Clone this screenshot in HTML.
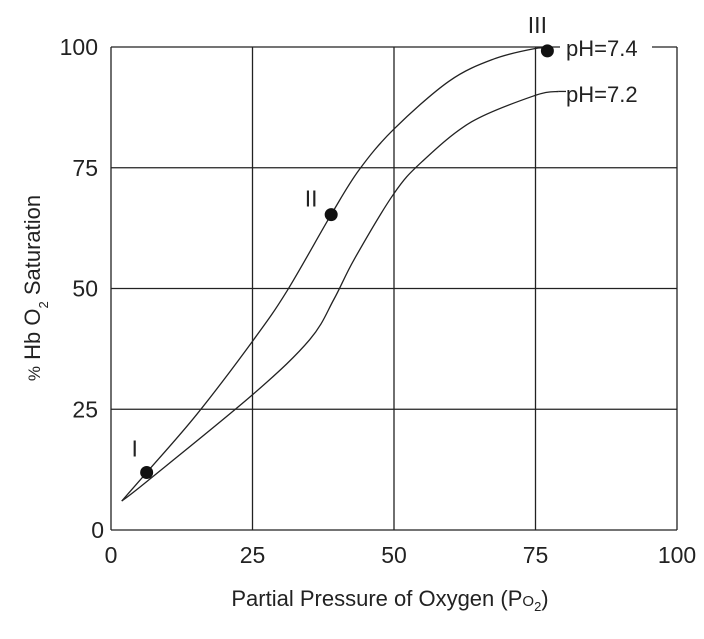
<!DOCTYPE html>
<html><head><meta charset="utf-8"><style>
body{margin:0;background:#fff;}
svg text{font-family:"Liberation Sans",sans-serif;fill:#222;}
</style></head><body>
<svg id="c" width="704" height="634"></svg>
<script>
const xTicks=[0,25,50,75,100];
const yTicks=[0,25,50,75,100];
const po2_74=[1.9,6.3,15.2,25.2,31.1,38.9,43.8,49.9,59.7,67.6,75,77.1];
const sat_74=[6,11.9,24,39.4,49.5,65.3,74.5,82.9,92.9,97.5,99.7,99.6];
const po2_72=[1.9,6.5,25.2,35.1,39.4,43,49.9,54.9,63.7,75,79.1];
const sat_72=[6,10.2,28.2,39.4,47.8,56.1,69.5,76.2,84.5,90,90.8];
const pointLabels=["I","II","III"];
const pointX=[6.3,38.9,77.1];
const pointY=[11.9,65.3,99.2];
const X0=111,X1=677,Y0=530,Y1=47;
const sx=v=>X0+(v/100)*(X1-X0), sy=v=>Y0-(v/100)*(Y0-Y1);
const svg=document.getElementById('c');const NS='http://www.w3.org/2000/svg';
function mk(t,a,p){const e=document.createElementNS(NS,t);for(const k in a)e.setAttribute(k,a[k]);(p||svg).appendChild(e);return e;}
xTicks.forEach(v=>{const l=mk('line',{x1:sx(v),x2:sx(v),y1:Y1,y2:Y0,stroke:'#222','stroke-width':1.3});

const t=mk('text',{x:sx(v),y:563,'text-anchor':'middle','font-size':23});t.textContent=v;
});
yTicks.forEach(v=>{const l=mk('line',{x1:X0,x2:X1,y1:sy(v),y2:sy(v),stroke:'#222','stroke-width':1.3});

const t=mk('text',{x:v==0?104:98,y:sy(v)+8,'text-anchor':'end','font-size':23});t.textContent=v;
});
function path(xs,ys){const p=xs.map((x,i)=>[sx(x),sy(ys[i])]);let d='M'+p[0][0]+','+p[0][1];
for(let i=0;i<p.length-1;i++){const a=p[i-1]||p[i],b=p[i],c=p[i+1],e=p[i+2]||c;
d+=' C'+(b[0]+(c[0]-a[0])/6)+','+(b[1]+(c[1]-a[1])/6)+' '+(c[0]-(e[0]-b[0])/6)+','+(c[1]-(e[1]-b[1])/6)+' '+c[0]+','+c[1];}return d;}
const c1=mk('path',{d:path(po2_74,sat_74),fill:'none',stroke:'#222','stroke-width':1.3});

const c2=mk('path',{d:path(po2_72,sat_72),fill:'none',stroke:'#222','stroke-width':1.3});

const lead=mk('line',{x1:sx(79.1),x2:566,y1:sy(90.8),y2:sy(90.8),stroke:'#222','stroke-width':1.3});

const lo=[[-12,-16],[-20,-8],[-10,-18]];
pointX.forEach((x,i)=>{const d=mk('circle',{cx:sx(x),cy:sy(pointY[i]),r:6.5,fill:'#111'});

const t=mk('text',{x:sx(x)+lo[i][0],y:sy(pointY[i])+lo[i][1],'text-anchor':'middle','font-size':23});t.textContent=pointLabels[i];
});
let w=mk('rect',{x:560,y:36,width:92,height:24,fill:'#fff'});

let t=mk('text',{x:566,y:56,'font-size':22});t.textContent='pH=7.4';

w=mk('rect',{x:566,y:82,width:86,height:26,fill:'#fff'});

t=mk('text',{x:566,y:102,'font-size':22});t.textContent='pH=7.2';

t=mk('text',{x:390,y:606,'text-anchor':'middle','font-size':22});
t.innerHTML='Partial Pressure of Oxygen (P<tspan font-size="15">O</tspan><tspan font-size="13" dy="5">2</tspan><tspan dy="-5">)</tspan>';

t=mk('text',{x:0,y:0,'text-anchor':'middle','font-size':22,transform:'translate(40,288) rotate(-90)'});
t.innerHTML='<tspan font-size="17">%</tspan> Hb O<tspan font-size="13" dy="8">2</tspan><tspan dy="-8"> Saturation</tspan>';

</script>
</body></html>
